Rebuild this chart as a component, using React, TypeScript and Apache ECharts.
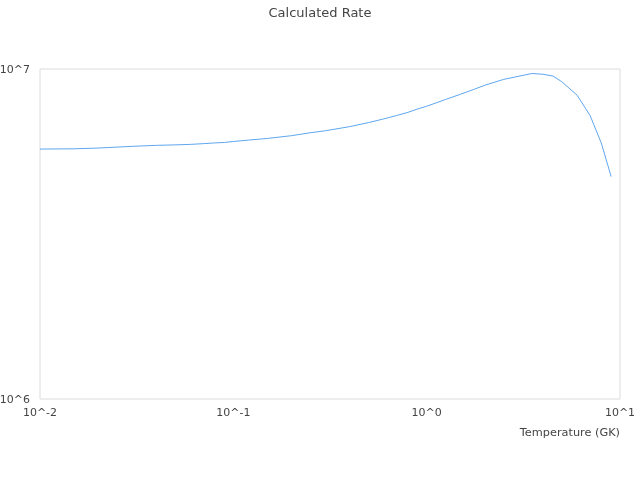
import React, { useEffect, useRef } from "react";
import * as echarts from "echarts";

const temperatures = [
  0.01, 0.015, 0.02, 0.03, 0.04, 0.05, 0.06, 0.07, 0.08, 0.09, 0.1, 0.12, 0.15,
  0.2, 0.25, 0.3, 0.4, 0.5, 0.6, 0.7, 0.8, 0.9, 1.0, 1.25, 1.5, 1.75, 2.0, 2.5,
  3.0, 3.5, 4.0, 4.5, 5.0, 6.0, 7.0, 8.0, 9.0,
];
const rates = [
  5.72e6, 5.73e6, 5.76e6, 5.83e6, 5.87e6, 5.89e6, 5.91e6, 5.94e6, 5.97e6, 5.99e6,
  6.03e6, 6.09e6, 6.16e6, 6.28e6, 6.41e6, 6.5e6, 6.69e6, 6.88e6, 7.06e6, 7.23e6,
  7.39e6, 7.57e6, 7.71e6, 8.08e6, 8.39e6, 8.67e6, 8.93e6, 9.3e6, 9.51e6, 9.69e6,
  9.64e6, 9.52e6, 9.15e6, 8.33e6, 7.23e6, 5.97e6, 4.72e6,
];
const titleText = "Calculated Rate";
const xAxisName = "Temperature (GK)";

const powerLabel = (v: number) => "10^" + Math.round(Math.log10(v));

export default function App() {
  const ref = useRef<HTMLDivElement>(null);
  useEffect(() => {
    if (!ref.current) return;
    const chart = echarts.init(ref.current, undefined, { renderer: "svg" });
    const font = "DejaVu Sans";
    chart.setOption({
      animation: false,
      textStyle: { fontFamily: font },
      title: {
        text: titleText,
        left: "center",
        top: 1,
        textStyle: { fontSize: 13, fontWeight: "normal", color: "#444", fontFamily: font },
      },
      grid: {
        left: 40,
        right: 20,
        top: 69,
        bottom: 81,
        show: true,
        borderColor: "#dcdcdc",
        borderWidth: 1,
        containLabel: false,
        outerBoundsMode: "none",
      },
      graphic: [
        {
          type: "text",
          x: 620,
          y: 432,
          style: {
            text: xAxisName,
            fill: "#444",
            fontSize: 11.3,
            fontFamily: font,
            align: "right",
            verticalAlign: "middle",
          },
        },
      ],
      xAxis: {
        type: "log",
        logBase: 10,
        min: 0.01,
        max: 10,
        axisLine: { show: false },
        axisTick: { show: false },
        splitLine: { show: false },
        minorSplitLine: { show: false },
        axisLabel: { formatter: powerLabel, color: "#444", fontSize: 11, fontFamily: font, margin: 8 },
      },
      yAxis: {
        type: "log",
        logBase: 10,
        min: 1e6,
        max: 1e7,
        axisLine: { show: false },
        axisTick: { show: false },
        splitLine: { show: false },
        axisLabel: { formatter: powerLabel, color: "#444", fontSize: 11, fontFamily: font, margin: 10 },
      },
      series: [
        {
          type: "line",
          showSymbol: false,
          data: temperatures.map((t, i) => [t, rates[i]]),
          lineStyle: { color: "#5ea6ee", width: 1 },
          itemStyle: { color: "#5ea6ee" },
        },
      ],
    });
    return () => chart.dispose();
  }, []);
  return (
    <div
      ref={ref}
      style={{ position: "fixed", left: 0, top: 0, width: 640, height: 480 }}
    />
  );
}
